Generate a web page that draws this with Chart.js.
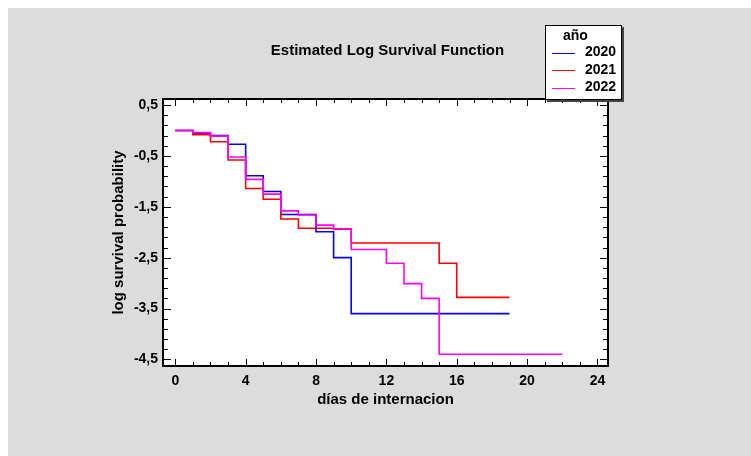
<!DOCTYPE html>
<html>
<head>
<meta charset="utf-8">
<script src="https://cdn.jsdelivr.net/npm/chart.js@4.4.0/dist/chart.umd.min.js"></script>
<style>
  html, body { margin: 0; padding: 0; background: #fff; }
</style>
</head>
<body>
<canvas id="chart" width="751" height="456"></canvas>
<script>
// Función de supervivencia (log) estimada por año: días de internación
const anios = ['2020', '2021', '2022'];
const colores = ['#0000ff', '#ff0000', '#ff00ff'];

const dias2020 = [0, 1, 2, 3, 4, 5, 6, 8, 9, 10, 19];
const logS2020 = [0, -0.06, -0.10, -0.27, -0.89, -1.20, -1.65, -1.99, -2.50, -3.60, -3.60];

const dias2021 = [0, 1, 2, 3, 4, 5, 6, 7, 9, 10, 15, 16, 19];
const logS2021 = [0, -0.08, -0.22, -0.58, -1.14, -1.35, -1.74, -1.92, -1.94, -2.21, -2.61, -3.28, -3.28];

const dias2022 = [0, 1, 2, 3, 4, 5, 6, 7, 8, 9, 10, 12, 13, 14, 15, 22];
const logS2022 = [0, -0.04, -0.11, -0.52, -0.96, -1.25, -1.58, -1.66, -1.86, -1.93, -2.34, -2.61, -3.01, -3.30, -4.40, -4.40];

// Marcas de los ejes
const xTicks = [0, 4, 8, 12, 16, 20, 24];
const yTicks = [0.5, -0.5, -1.5, -2.5, -3.5, -4.5];

const FUENTE = '"Liberation Sans", Arial, sans-serif';

function serie(dias, valores) {
    return dias.map((d, i) => ({ x: d, y: valores[i] }));
}

// Fondo gris, área blanca, marco con marcas interiores, título y leyenda
const marco = {
    id: 'marco',
    beforeDraw(chart) {
        const { ctx, chartArea: a } = chart;
        ctx.save();
        ctx.fillStyle = '#ffffff';
        ctx.fillRect(0, 0, chart.width, chart.height);
        ctx.fillStyle = '#dcdcdc';
        ctx.fillRect(8, 8, chart.width - 8, chart.height - 8);
        ctx.fillStyle = '#ffffff';
        ctx.fillRect(a.left, a.top, a.right - a.left, a.bottom - a.top);
        ctx.restore();
    },
    afterDraw(chart) {
        const { ctx, chartArea: a } = chart;
        const sx = chart.scales.x, sy = chart.scales.y;
        ctx.save();
        ctx.strokeStyle = '#000';
        ctx.lineWidth = 1;
        ctx.beginPath();
        // marcas del eje x: cada día, mayores cada 4
        for (let d = 0; d <= 24; d++) {
            const px = Math.round(sx.getPixelForValue(d)) + 0.5;
            const len = d % 4 === 0 ? 7 : 4;
            ctx.moveTo(px, a.bottom); ctx.lineTo(px, a.bottom - len);
            ctx.moveTo(px, a.top); ctx.lineTo(px, a.top + len);
        }
        // marcas del eje y: cada 0,2, mayores cada 1
        for (let k = 0; k <= 25; k++) {
            const v = 0.5 - k * 0.2;
            const py = Math.round(sy.getPixelForValue(v)) + 0.5;
            const len = k % 5 === 0 ? 8 : 5;
            ctx.moveTo(a.left, py); ctx.lineTo(a.left + len, py);
            ctx.moveTo(a.right, py); ctx.lineTo(a.right - len, py);
        }
        ctx.stroke();
        ctx.lineWidth = 2;
        ctx.strokeRect(a.left, a.top, a.right - a.left, a.bottom - a.top);

        // título
        ctx.fillStyle = '#000';
        ctx.font = 'bold 15px ' + FUENTE;
        ctx.textAlign = 'center';
        ctx.textBaseline = 'middle';
        ctx.fillText('Estimated Log Survival Function', (a.left + a.right) / 2 + 2, 51);

        // leyenda
        const lx = a.right - 63, ly = a.top - 74, lw = 77, lh = 75;
        ctx.fillStyle = '#444';
        ctx.fillRect(lx + 2, ly + 2, lw, lh);
        ctx.fillStyle = '#fff';
        ctx.fillRect(lx, ly, lw, lh);
        ctx.lineWidth = 1;
        ctx.strokeStyle = '#000';
        ctx.strokeRect(lx + 0.5, ly + 0.5, lw - 1, lh - 1);
        ctx.fillStyle = '#000';
        ctx.font = 'bold 14px ' + FUENTE;
        ctx.textAlign = 'left';
        ctx.fillText('año', lx + 18, ly + 11);
        anios.forEach((t, i) => {
            const yy = ly + 27.5 + i * 17.5;
            ctx.strokeStyle = colores[i];
            ctx.beginPath();
            ctx.moveTo(lx + 7, Math.round(yy) + 0.5);
            ctx.lineTo(lx + 30, Math.round(yy) + 0.5);
            ctx.stroke();
            ctx.fillText(t, lx + 40, yy);
        });
        ctx.restore();
    }
};

const fuenteTicks = { family: FUENTE, size: 14, weight: 'bold' };
const fuenteTitulo = { family: FUENTE, size: 15, weight: 'bold' };

new Chart(document.getElementById('chart'), {
    type: 'line',
    data: {
        datasets: [
            { label: anios[0], data: serie(dias2020, logS2020), borderColor: colores[0], order: 3 },
            { label: anios[1], data: serie(dias2021, logS2021), borderColor: colores[1], order: 2 },
            { label: anios[2], data: serie(dias2022, logS2022), borderColor: colores[2], order: 1 },
        ],
    },
    options: {
        responsive: false,
        animation: false,
        parsing: true,
        elements: {
            line: { borderWidth: 1.6, stepped: true, fill: false, tension: 0 },
            point: { radius: 0, hoverRadius: 0 },
        },
        layout: { padding: { left: 0, top: 99, right: 143, bottom: 0 } },
        plugins: {
            legend: { display: false },
            title: { display: false },
            tooltip: { enabled: false },
        },
        scales: {
            x: {
                type: 'linear',
                min: -0.7,
                max: 24.6,
                grid: { display: false, drawTicks: false },
                border: { display: false },
                afterBuildTicks: s => { s.ticks = xTicks.map(v => ({ value: v })); },
                afterFit: s => { s.height = 90; },
                ticks: { font: fuenteTicks, color: '#000', padding: 7, maxRotation: 0 },
                title: {
                    display: true,
                    text: 'días de internacion',
                    font: fuenteTitulo,
                    color: '#000',
                    padding: { top: 0, bottom: 47 },
                },
            },
            y: {
                type: 'linear',
                min: -4.63,
                max: 0.62,
                grid: { display: false, drawTicks: false },
                border: { display: false },
                afterBuildTicks: s => { s.ticks = yTicks.map(v => ({ value: v })); },
                afterFit: s => { s.width = 163; },
                ticks: {
                    font: fuenteTicks,
                    color: '#000',
                    padding: 5,
                    callback: v => v.toFixed(1).replace('.', ','),
                },
                title: {
                    display: true,
                    text: 'log survival probability',
                    font: fuenteTitulo,
                    color: '#000',
                    padding: { top: 110, bottom: 0 },
                },
            },
        },
    },
    plugins: [marco],
});
</script>
</body>
</html>
